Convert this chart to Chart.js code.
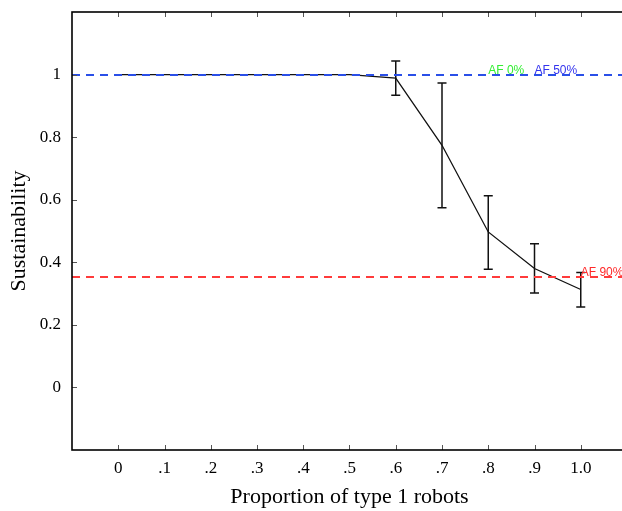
<!DOCTYPE html>
<html>
<head>
<meta charset="utf-8">
<script src="https://cdn.jsdelivr.net/npm/chart.js@4.4.0/dist/chart.umd.min.js"></script>
<style>
	html, body { margin: 0; padding: 0; background: #fff; overflow: hidden; }
	#wrap { width: 632px; height: 511px; }
</style>
</head>
<body>
<div id="wrap"><canvas id="chart" width="632" height="511"></canvas></div>
<script>
	// Mean sustainability per proportion of type 1 robots.
	const proportions = [0, 0.1, 0.2, 0.3, 0.4, 0.5, 0.6, 0.7, 0.8, 0.9, 1.0];
	const sustainability = [1.0, 1.0, 1.0, 1.0, 1.0, 1.0, 0.989, 0.774, 0.497, 0.380, 0.313];
	const errUpper = [null, null, null, null, null, null, 1.043, 0.973, 0.613, 0.459, 0.367];
	const errLower = [null, null, null, null, null, null, 0.934, 0.574, 0.378, 0.302, 0.257];

	// Axis ticks.
	const xTickLabels = ['0', '.1', '.2', '.3', '.4', '.5', '.6', '.7', '.8', '.9', '1.0'];
	const yTickValues = [0, 0.2, 0.4, 0.6, 0.8, 1];
	const yTickLabels = ['0', '0.2', '0.4', '0.6', '0.8', '1'];

	// Reference levels (dashed lines) and their labels.
	const refNames = ['AF 0%', 'AF 50%', 'AF 90%'];
	const refLevels = [1.0, 1.0, 0.352];
	const refLabelX = [0.8, 0.9, 1.0];
	const refLineColors = ['#22dd22', '#2a4fe8', '#ff3b3b'];
	const refTextColors = ['#33ee33', '#3333ee', '#ff2a2a'];

	const serif = 'Liberation Serif';

	/**
	 * Frame with inward tick marks on all four sides.
	 */
	const framePlugin = {
		id: 'frame',
		afterDraw: function(chart) {
			const ctx = chart.ctx;
			const area = chart.chartArea;
			const xs = chart.scales.x;
			const ys = chart.scales.y;
			ctx.save();
			ctx.strokeStyle = '#555';
			ctx.lineWidth = 1;
			xs.ticks.forEach(function(t) {
				const px = Math.round(xs.getPixelForValue(t.value)) + 0.5;
				ctx.beginPath();
				ctx.moveTo(px, area.bottom);
				ctx.lineTo(px, area.bottom - 5);
				ctx.moveTo(px, area.top);
				ctx.lineTo(px, area.top + 5);
				ctx.stroke();
			});
			ys.ticks.forEach(function(t) {
				const py = Math.round(ys.getPixelForValue(t.value)) + 0.5;
				ctx.beginPath();
				ctx.moveTo(area.left, py);
				ctx.lineTo(area.left + 5, py);
				ctx.moveTo(area.right, py);
				ctx.lineTo(area.right - 5, py);
				ctx.stroke();
			});
			ctx.strokeStyle = '#000';
			ctx.lineWidth = 1.6;
			ctx.strokeRect(area.left, area.top, area.right - area.left, area.bottom - area.top);
			ctx.restore();
		}
	};

	/**
	 * Error bars and dashed reference lines, drawn over the data line.
	 */
	const overlayPlugin = {
		id: 'overlay',
		afterDatasetsDraw: function(chart) {
			const ctx = chart.ctx;
			const area = chart.chartArea;
			const xs = chart.scales.x;
			const ys = chart.scales.y;
			ctx.save();

			// Error bars.
			ctx.strokeStyle = '#111';
			ctx.lineWidth = 1.5;
			proportions.forEach(function(p, i) {
				if (errUpper[i] === null) return;
				const px = xs.getPixelForValue(p);
				const top = ys.getPixelForValue(errUpper[i]);
				const bot = ys.getPixelForValue(errLower[i]);
				ctx.beginPath();
				ctx.moveTo(px, top);
				ctx.lineTo(px, bot);
				ctx.moveTo(px - 4.5, top);
				ctx.lineTo(px + 4.5, top);
				ctx.moveTo(px - 4.5, bot);
				ctx.lineTo(px + 4.5, bot);
				ctx.stroke();
			});

			// Reference lines, snapped to whole pixels so stacked lines do not blend.
			ctx.lineWidth = 2;
			ctx.setLineDash([8, 6]);
			refLevels.forEach(function(level, i) {
				const py = Math.round(ys.getPixelForValue(level));
				ctx.strokeStyle = refLineColors[i];
				ctx.beginPath();
				ctx.moveTo(Math.round(area.left), py);
				ctx.lineTo(area.right, py);
				ctx.stroke();
			});
			ctx.setLineDash([]);

			// Labels.
			ctx.font = '12px "Liberation Sans"';
			ctx.textAlign = 'left';
			ctx.textBaseline = 'alphabetic';
			refNames.forEach(function(name, i) {
				ctx.fillStyle = refTextColors[i];
				ctx.fillText(name, xs.getPixelForValue(refLabelX[i]), ys.getPixelForValue(refLevels[i]) - 1);
			});
			ctx.restore();
		}
	};

	const points = proportions.map(function(p, i) {
		return { x: p, y: sustainability[i] };
	});

	new Chart(document.getElementById('chart').getContext('2d'), {
		type: 'line',
		data: {
			datasets: [{
				label: 'Sustainability',
				data: points,
				borderColor: '#111',
				borderWidth: 1.3,
				pointRadius: 0,
				tension: 0,
				fill: false
			}]
		},
		options: {
			responsive: false,
			animation: false,
			layout: {
				padding: { top: 12, right: 5, left: 0, bottom: 0 }
			},
			plugins: {
				legend: { display: false },
				tooltip: { enabled: false }
			},
			scales: {
				x: {
					type: 'linear',
					min: -0.1,
					max: 1.1,
					afterBuildTicks: function(scale) {
						scale.ticks = proportions.map(function(v) { return { value: v }; });
					},
					afterFit: function(scale) {
						scale.height = 61;
						scale.paddingLeft = 0;
						scale.paddingRight = 0;
					},
					grid: { display: false, drawTicks: false },
					border: { display: false },
					ticks: {
						autoSkip: false,
						maxRotation: 0,
						padding: 8,
						color: '#000',
						font: { family: serif, size: 17 },
						callback: function(value, index) {
							return xTickLabels[index];
						}
					},
					title: {
						display: true,
						text: 'Proportion of type 1 robots',
						color: '#000',
						font: { family: serif, size: 22 },
						padding: { top: 0, bottom: 1 }
					}
				},
				y: {
					min: -0.2,
					max: 1.2,
					afterBuildTicks: function(scale) {
						scale.ticks = yTickValues.map(function(v) { return { value: v }; });
					},
					afterFit: function(scale) {
						scale.width = 72;
						scale.paddingTop = 0;
						scale.paddingBottom = 0;
					},
					grid: { display: false, drawTicks: false },
					border: { display: false },
					ticks: {
						padding: 11,
						color: '#000',
						font: { family: serif, size: 17 },
						callback: function(value, index) {
							return yTickLabels[index];
						}
					},
					title: {
						display: true,
						text: 'Sustainability',
						color: '#000',
						font: { family: serif, size: 22 },
						padding: { top: 6, bottom: 0 }
					}
				}
			}
		},
		plugins: [framePlugin, overlayPlugin]
	});
</script>
</body>
</html>
